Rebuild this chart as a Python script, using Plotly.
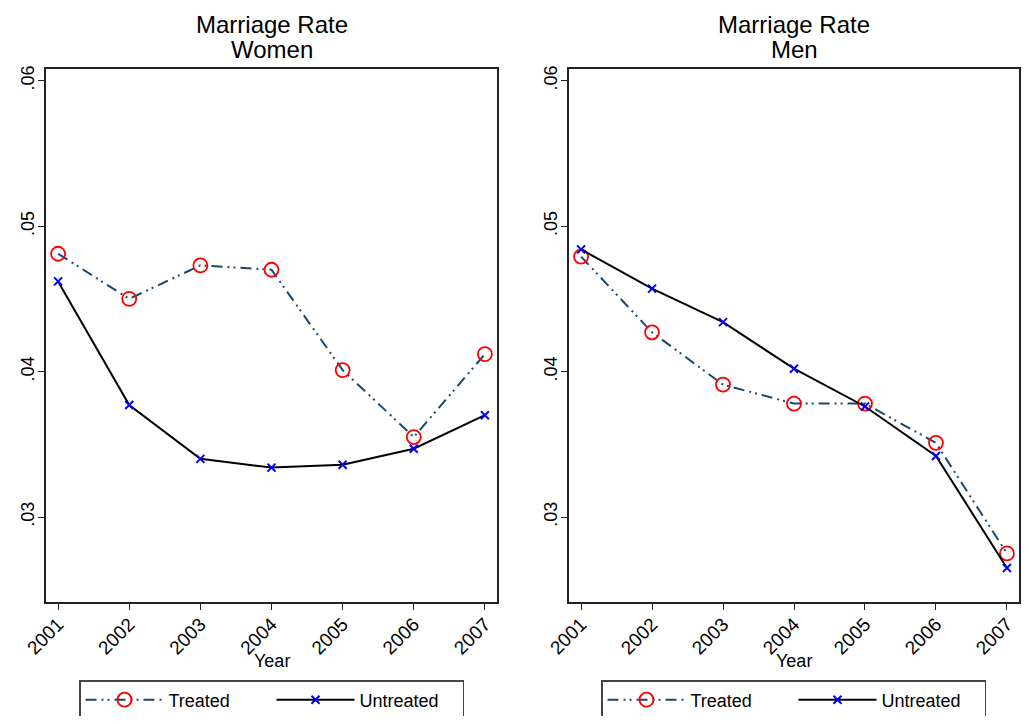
import plotly.graph_objects as go

years = [2001, 2002, 2003, 2004, 2005, 2006, 2007]
women_treated = [0.0481, 0.0450, 0.0473, 0.0470, 0.0401, 0.0355, 0.0412]
women_untreated = [0.0462, 0.0377, 0.0340, 0.0334, 0.0336, 0.0347, 0.0370]
men_treated = [0.0479, 0.0427, 0.0391, 0.0378, 0.0378, 0.0351, 0.0275]
men_untreated = [0.0484, 0.0457, 0.0434, 0.0402, 0.0376, 0.0342, 0.0265]
ytick_vals = [0.03, 0.04, 0.05, 0.06]
ytick_text = [".03", ".04", ".05", ".06"]
panel_titles = [("Marriage Rate", "Women"), ("Marriage Rate", "Men")]
x_title = "Year"

# page body margin offset (default 8px)
OFF = 8
W, H = 1029 - 2 * OFF, 724 - 2 * OFF
ML = 46 - OFF
MT = 69 - OFF
MR = W - (1019 - OFF)
MB = H - (602 - OFF)
PW, PH = W - ML - MR, H - MT - MB
FONT = "Liberation Sans, Arial, sans-serif"
NAVY = "#1a476f"
DASH = "11px,5px,2px,4px,2px,5px"


def px_x(p):
    return (p - OFF - ML) / PW


def px_y(p):
    return (H - MB - (p - OFF)) / PH


fig = go.Figure()

panels = [
    (women_treated, women_untreated, "x", "y", "legend"),
    (men_treated, men_untreated, "x2", "y2", "legend2"),
]
for tr, un, xa, ya, lg in panels:
    fig.add_trace(go.Scatter(
        x=years, y=tr, xaxis=xa, yaxis=ya, name="Treated", legend=lg,
        mode="lines+markers",
        line=dict(color=NAVY, width=2, dash=DASH),
        marker=dict(symbol="circle-open", size=14, color="red", line=dict(width=1.8, color="red")),
    ))
    fig.add_trace(go.Scatter(
        x=years, y=un, xaxis=xa, yaxis=ya, name="Untreated", legend=lg,
        mode="lines+markers",
        line=dict(color="black", width=2),
        marker=dict(symbol="x-thin", size=8, color="blue", line=dict(width=2, color="blue")),
    ))

xdoms = [[px_x(46), px_x(497)], [px_x(569), px_x(1019)]]

axis_common = dict(showline=True, linecolor="#222", linewidth=1.5, mirror=True,
                   ticks="outside", ticklen=6, tickcolor="#222", tickwidth=1,
                   showgrid=False, zeroline=False, automargin=False)

for i, suffix in enumerate(["", "2"]):
    fig.layout["xaxis" + suffix] = dict(
        axis_common, domain=xdoms[i], range=[2000.83, 2007.17],
        tickvals=years, ticktext=[str(y) for y in years], tickangle=-45,
        anchor="y" + suffix, ticklabelstandoff=-4,
        tickfont=dict(family=FONT, size=19, color="black"),
    )
    fig.layout["yaxis" + suffix] = dict(
        axis_common, domain=[0, 1], range=[0.02416, 0.0608],
        tickvals=ytick_vals, ticktext=ytick_text, tickangle=-90,
        anchor="x" + suffix, ticklabelstandoff=-3,
        tickfont=dict(family=FONT, size=18, color="black"),
    )

annotations = []
for i, (l1, l2) in enumerate(panel_titles):
    xc = (xdoms[i][0] + xdoms[i][1]) / 2
    annotations.append(dict(text=l1, x=xc, y=px_y(24), xref="paper", yref="paper",
                            xanchor="center", yanchor="middle", showarrow=False,
                            font=dict(family=FONT, size=24, color="black")))
    annotations.append(dict(text=l2, x=xc, y=px_y(49), xref="paper", yref="paper",
                            xanchor="center", yanchor="middle", showarrow=False,
                            font=dict(family=FONT, size=24, color="black")))
    annotations.append(dict(text=x_title, x=xc, y=px_y(661), xref="paper", yref="paper",
                            xanchor="center", yanchor="middle", showarrow=False,
                            font=dict(family=FONT, size=18, color="black")))

legend_common = dict(orientation="h", yanchor="middle", xanchor="center",
                     y=px_y(700), bordercolor="#444", borderwidth=1.5,
                     font=dict(family=FONT, size=18, color="black"),
                     itemwidth=78, entrywidth=98, bgcolor="white")

fig.update_layout(
    width=W, height=H,
    margin=dict(l=ML, r=MR, t=MT, b=MB, autoexpand=False),
    paper_bgcolor="white", plot_bgcolor="white",
    font=dict(family=FONT, color="black"),
    annotations=annotations,
    legend=dict(legend_common, x=px_x((84 + 459) / 2)),
    legend2=dict(legend_common, x=px_x((606 + 981) / 2)),
)

fig.write_html("out.html")
